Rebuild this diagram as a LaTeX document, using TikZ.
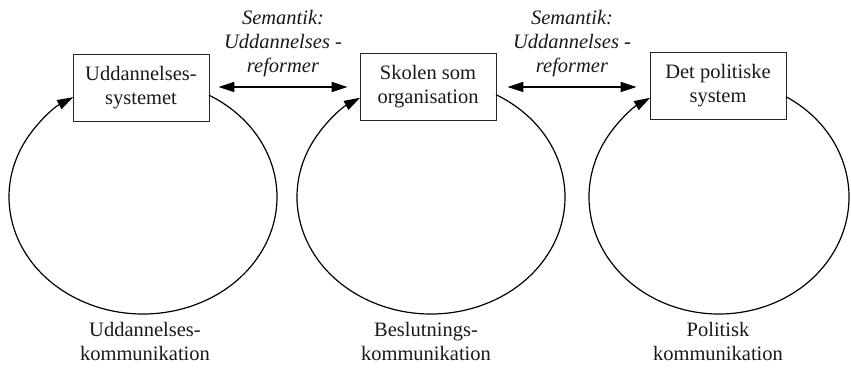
\documentclass[tikz,border=0pt]{standalone}
\usepackage{fontspec}
\setmainfont{Liberation Serif}
\usetikzlibrary{arrows.meta,calc}
\begin{document}
\begin{tikzpicture}[x=1pt,y=1pt,
  txt/.style={font=\fontsize{20.5}{24}\selectfont, text=black!90},
  box/.style={txt, draw=black!85, line width=0.8pt, minimum width=136pt, minimum height=67pt, inner sep=0pt, align=center},
  lbl/.style={txt, align=center, inner sep=0pt},
  sem/.style={lbl, font=\fontsize{20.5}{24}\selectfont\itshape},
  tip/.tip={Triangle[length=16pt,width=10pt]},
  loopline/.style={line width=1.2pt, -tip},
  dbl/.style={line width=1.5pt, tip-tip}]
\useasboundingbox (0,0) rectangle (851,377);

% boxes
\node[box] (b1) at (141,289) {Uddannelses-\\systemet};
\node[box] (b2) at (428,290) {Skolen som\\organisation};
\node[box] (b3) at (718,291) {Det politiske\\system};

% semantic labels and double arrows
\node[sem, anchor=south] (s1) at (283,300) {Semantik:\\Uddannelses -\\reformer};
\node[sem, anchor=south] (s2) at (572,300) {Semantik:\\Uddannelses -\\reformer};
\draw[dbl] ([xshift=9pt,yshift=1pt]b1.east) -- ([xshift=-12pt,yshift=0pt]b2.west);
\draw[dbl] ([xshift=11pt,yshift=-0pt]b2.east) -- ([xshift=-13pt,yshift=-1pt]b3.west);

% loops
\coordinate (c1) at (143,180);
\coordinate (c2) at (431,180);
\coordinate (c3) at (719,180);
\draw[loopline] ($(c1)+(60.5:134 and 117)$) arc[start angle=60.5, end angle=-238.6, x radius=134, y radius=117];
\draw[loopline] ($(c2)+(61:134 and 117)$) arc[start angle=61, end angle=-238, x radius=134, y radius=117];
\draw[loopline] ($(c3)+(59:130 and 117)$) arc[start angle=59, end angle=-238, x radius=130, y radius=117];

% bottom labels
\node[lbl, anchor=south] (k1) at (145,16) {Uddannelses-\\kommunikation};
\node[lbl, anchor=south] (k2) at (426,16) {Beslutnings-\\kommunikation};
\node[lbl, anchor=south] (k3) at (718,16) {Politisk\\kommunikation};
\end{tikzpicture}
\end{document}
